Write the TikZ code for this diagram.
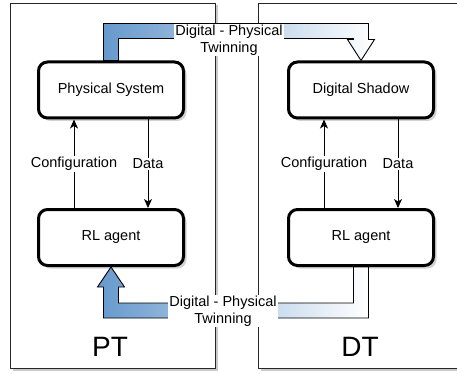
\documentclass[tikz,border=0pt]{standalone}
\usepackage{fontspec}
\setmainfont{Liberation Sans}
\usetikzlibrary{arrows.meta,calc,shadows}
\definecolor{flexblue}{RGB}{102,153,204}
\tikzset{
  panel/.style={draw=black!85, line width=0.9pt, fill=white,
    drop shadow={shadow xshift=2.5pt, shadow yshift=-2.5pt, fill=gray!70, opacity=0.6}},
  blockbox/.style={draw=black, line width=3pt, fill=white, rounded corners=9pt,
    minimum width=145pt, minimum height=56pt, font=\fontsize{14.5}{17}\selectfont,
    drop shadow={shadow xshift=3pt, shadow yshift=-3pt, fill=gray!70, opacity=0.5}},
  conn/.style={line width=0.9pt, -{Stealth[length=9pt,width=8pt,inset=2.5pt]}},
  lbl/.style={fill=white, inner sep=1pt, font=\fontsize{14.5}{17}\selectfont},
  twinlbl/.style={fill=white, inner sep=1pt, align=center, font=\fontsize{14.5}{17}\selectfont},
  flex/.style={draw=black, line width=0.9pt, left color=flexblue, right color=white},
  bigtag/.style={font=\fontsize{28}{30}\selectfont},
}
\begin{document}
\begin{tikzpicture}[x=1pt,y=-1pt]
\useasboundingbox (0,0) rectangle (457,374);
\clip (0,0) rectangle (457,374);

% the two halves: physical twin and digital twin
\path[panel] (10,3) rectangle (215,368);
\path[panel] (258,3) rectangle (470,368);

% blocks
\node[blockbox] (ps)  at (111,90)    {Physical System};
\node[blockbox] (rl)  at (111,237.5) {RL agent};
\node[blockbox] (dsh) at (361,90)    {Digital Shadow};
\node[blockbox] (rr)  at (361,237.5) {RL agent};

% twinning from the physical system to the digital shadow
\shade[flex] ($(ps.north)+(-7.5,0)$) -- ++(0,-37) -- ++(265,0) -- ++(0,16)
  -- ++(6,0) -- (dsh.north) -- ++(-13.5,-21) -- ++(6,0) -- ++(0,-1)
  -- ++(-235,0) -- ++(0,22) -- cycle;

% twinning from the digital agent back to the physical agent
\shade[flex] ($(rr.south)+(7.5,0)$) -- ++(0,51) -- ++(-265,0) -- ++(0,-31)
  -- ++(-6,0) -- (rl.south) -- ++(13.5,20) -- ++(-6,0) -- ++(0,16)
  -- ++(235,0) -- ++(0,-36) -- cycle;

% configuration / data loops
\draw[conn] ($(rl.north west)!0.25!(rl.north east)$) -- ($(ps.south west)!0.25!(ps.south east)$)
  node[lbl, midway] (cfgl) {Configuration};
\draw[conn] ($(ps.south west)!0.75!(ps.south east)$) -- ($(rl.north west)!0.75!(rl.north east)$)
  node[lbl, midway] (datl) {Data};
\draw[conn] ($(rr.north west)!0.25!(rr.north east)$) -- ($(dsh.south west)!0.25!(dsh.south east)$)
  node[lbl, midway] (cfgr) {Configuration};
\draw[conn] ($(dsh.south west)!0.75!(dsh.south east)$) -- ($(rr.north west)!0.75!(rr.north east)$)
  node[lbl, midway] (datr) {Data};

% twinning labels
\node[twinlbl] (twtop) at (229,40)  {Digital - Physical\\Twinning};
\node[twinlbl] (twbot) at (223,311) {Digital - Physical\\Twinning};

% panel titles
\node[bigtag] (pt) at (110,347) {PT};
\node[bigtag] (dt) at (360,347) {DT};
\end{tikzpicture}
\end{document}
